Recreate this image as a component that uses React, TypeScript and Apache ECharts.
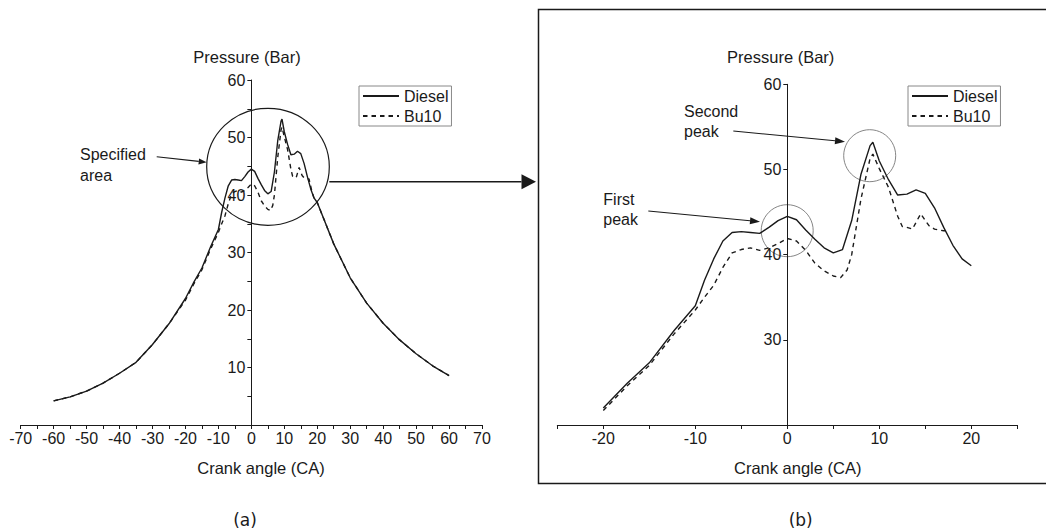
import React, { useEffect, useRef } from "react";
import * as echarts from "echarts";

// Crank angle (deg) and cylinder pressure (bar)
const dieselAngle = [-60, -55, -50, -45, -40, -35, -30, -25, -20, -17.4, -15, -12.3, -10, -9, -8, -7, -6, -5, -4, -3, -2, -1, 0, 1, 2, 3, 4, 5, 6, 7, 8, 9, 9.3, 10, 11, 12, 13, 14, 15, 16, 17, 18, 19, 20, 25, 30, 35, 40, 45, 50, 55, 60];
const dieselP = [4.2, 4.9, 5.9, 7.3, 9.0, 10.9, 14.0, 17.6, 22.0, 24.9, 27.3, 31.1, 34.0, 37.0, 39.5, 41.6, 42.6, 42.7, 42.6, 42.5, 43.2, 44.0, 44.5, 44.1, 42.9, 41.8, 40.8, 40.2, 40.6, 44.0, 49.4, 52.8, 53.2, 51.0, 48.8, 47.0, 47.1, 47.6, 47.2, 45.5, 43.2, 41.1, 39.5, 38.7, 31.5, 25.6, 21.2, 17.7, 14.8, 12.4, 10.3, 8.6];

const bu10Angle = [-60, -55, -50, -45, -40, -35, -30, -25, -20, -17.4, -15, -12.3, -10, -9, -8, -7, -6, -5, -4, -3, -2, -1, 0, 1, 2, 3, 4, 5, 5.8, 6.5, 7, 8, 9, 9.3, 10, 11, 12, 12.5, 13, 13.6, 14.5, 15.4, 16, 17, 17.5, 18.3, 19, 20, 25, 30, 35, 40, 45, 50, 55, 60];
const bu10P = [4.2, 4.9, 5.9, 7.3, 9.0, 10.9, 14.0, 17.6, 21.7, 24.6, 27.0, 30.7, 33.5, 35.0, 36.4, 38.5, 40.2, 40.6, 40.8, 40.5, 40.8, 41.3, 41.9, 41.6, 40.5, 39.0, 38.1, 37.5, 37.3, 38.2, 40.0, 46.5, 51.3, 51.8, 50.1, 47.9, 44.5, 43.3, 43.2, 43.0, 44.8, 43.4, 43.0, 42.8, 42.8, 40.8, 39.5, 38.7, 31.5, 25.6, 21.2, 17.7, 14.8, 12.4, 10.3, 8.6];

const seriesNames = ["Diesel", "Bu10"];
const leftXTicks = { min: -70, max: 70, step: 10 };
const leftYTicks = { min: 0, max: 60, step: 10 };
const rightXTicks = { min: -25, max: 25, step: 5 };
const rightYTicks = { min: 20, max: 60, step: 10 };

const FONT = "Arial";
const INK = "#1a1a1a";
const TICK_FS = 16;
const NAME_FS = 16.5;

function pairs(xs: number[], ys: number[], lo = -Infinity, hi = Infinity) {
  const out: number[][] = [];
  xs.forEach((x, i) => {
    if (x >= lo && x <= hi) out.push([x, ys[i]]);
  });
  return out;
}

function axisBase() {
  return {
    type: "value" as const,
    splitLine: { show: false },
    axisLine: { show: true, onZero: false, lineStyle: { color: INK, width: 1 } },
    axisTick: { show: true, length: 4, lineStyle: { color: INK } },
    axisLabel: { color: INK, fontFamily: FONT, fontSize: TICK_FS },
  };
}

function arrowHead(tx: number, ty: number, fx: number, fy: number, len: number, half: number) {
  const dx = tx - fx, dy = ty - fy;
  const d = Math.hypot(dx, dy);
  const ux = dx / d, uy = dy / d;
  const bx = tx - ux * len, by = ty - uy * len;
  const nx = -uy * half, ny = ux * half;
  return [[tx, ty], [bx + nx, by + ny], [bx - nx, by - ny]];
}

function arrow(fx: number, fy: number, tx: number, ty: number, len: number, half: number, w: number) {
  const head = arrowHead(tx, ty, fx, fy, len, half);
  const bx = (head[1][0] + head[2][0]) / 2;
  const by = (head[1][1] + head[2][1]) / 2;
  return [
    { type: "line", shape: { x1: fx, y1: fy, x2: bx, y2: by }, style: { stroke: INK, lineWidth: w } },
    { type: "polygon", shape: { points: head }, style: { fill: INK } },
  ];
}

function label(text: string, x: number, y: number, size: number, align = "left", family = FONT) {
  return {
    type: "text",
    x,
    y,
    style: {
      text,
      fill: INK,
      fontSize: size,
      fontFamily: family,
      textAlign: align,
      textVerticalAlign: "middle",
      align,
      verticalAlign: "middle",
    },
  };
}

// grid geometry (pixels)
const G1 = { left: 20.7, top: 80, width: 461.3, height: 345 };
const G2 = { left: 557.3, top: 84.3, width: 460, height: 340.7 };
const zeroX1 = G1.left + (G1.width * (0 - leftXTicks.min)) / (leftXTicks.max - leftXTicks.min);
const zeroX2 = G2.left + (G2.width * (0 - rightXTicks.min)) / (rightXTicks.max - rightXTicks.min);

export default function App() {
  const ref = useRef<HTMLDivElement>(null);

  useEffect(() => {
    if (!ref.current) return;
    const chart = echarts.init(ref.current, undefined, { renderer: "svg" });

    const legendCommon = {
      orient: "vertical" as const,
      data: seriesNames,
      itemWidth: 36,
      itemHeight: 14,
      itemGap: 4,
      padding: [2, 3, 2, 3],
      borderColor: "#888",
      borderWidth: 1,
      textStyle: { color: INK, fontFamily: FONT, fontSize: 16 },
      itemStyle: { opacity: 0 },
      selectedMode: false,
    };

    const lineSolid = { color: INK, width: 1.4, type: "solid" as const };
    const lineDash = { color: INK, width: 1.4, type: [4.5, 4] as any };
    const common = { type: "line", symbol: "none", itemStyle: { color: INK } };

    chart.setOption({
      animation: false,
      backgroundColor: "#fff",
      grid: [G1, G2],
      xAxis: [
        {
          ...axisBase(),
          gridIndex: 0,
          min: leftXTicks.min,
          max: leftXTicks.max,
          interval: leftXTicks.step,
          minorTick: { show: true, splitNumber: 2, length: 4, lineStyle: { color: INK } },
          axisLabel: { color: INK, fontFamily: FONT, fontSize: TICK_FS, margin: 5 },
        },
        {
          ...axisBase(),
          gridIndex: 1,
          min: rightXTicks.min,
          max: rightXTicks.max,
          interval: rightXTicks.step,
          axisLabel: {
            color: INK,
            fontFamily: FONT,
            fontSize: TICK_FS,
            margin: 5,
            formatter: (v: number) => (v % 10 === 0 ? String(v) : ""),
          },
        },
      ],
      yAxis: [
        {
          ...axisBase(),
          gridIndex: 0,
          position: "left",
          offset: -(zeroX1 - G1.left),
          min: leftYTicks.min,
          max: leftYTicks.max,
          interval: leftYTicks.step,
          minorTick: { show: true, splitNumber: 2, length: 4, lineStyle: { color: INK } },
          axisLabel: { color: INK, fontFamily: FONT, fontSize: TICK_FS, margin: 6, showMinLabel: false },
        },
        {
          ...axisBase(),
          gridIndex: 1,
          position: "left",
          offset: -(zeroX2 - G2.left),
          min: rightYTicks.min,
          max: rightYTicks.max,
          interval: rightYTicks.step,
          axisLabel: { color: INK, fontFamily: FONT, fontSize: TICK_FS, margin: 6, showMinLabel: false },
        },
      ],
      legend: [
        { ...legendCommon, left: 359, top: 86 },
        { ...legendCommon, left: 908, top: 86 },
      ],
      series: [
        { ...common, name: seriesNames[0], xAxisIndex: 0, yAxisIndex: 0, lineStyle: lineSolid, data: pairs(dieselAngle, dieselP), z: 3 },
        { ...common, name: seriesNames[1], xAxisIndex: 0, yAxisIndex: 0, lineStyle: lineDash, data: pairs(bu10Angle, bu10P), z: 2 },
        { ...common, name: seriesNames[0], xAxisIndex: 1, yAxisIndex: 1, lineStyle: lineSolid, data: pairs(dieselAngle, dieselP, -20, 20), z: 3 },
        { ...common, name: seriesNames[1], xAxisIndex: 1, yAxisIndex: 1, lineStyle: lineDash, data: pairs(bu10Angle, bu10P, -20, 17.5), z: 2 },
      ],
      graphic: [
        // frame of panel (b)
        { type: "rect", shape: { x: 538.5, y: 9.5, width: 520, height: 474 }, style: { fill: "none", stroke: INK, lineWidth: 1.5 } },
        // specified area ellipse
        { type: "ellipse", shape: { cx: 268, cy: 166.8, rx: 61.3, ry: 58.5 }, style: { fill: "none", stroke: INK, lineWidth: 1.2 } },
        // peak circles
        { type: "circle", shape: { cx: 787.2, cy: 230.7, r: 26 }, style: { fill: "none", stroke: "#777", lineWidth: 0.9 } },
        { type: "circle", shape: { cx: 869.7, cy: 155.7, r: 26 }, style: { fill: "none", stroke: "#777", lineWidth: 0.9 } },
        ...arrow(329.3, 181.7, 536, 181.7, 14.5, 7.5, 1.5),
        ...arrow(156.7, 156.7, 206.7, 162.3, 8, 3, 1.1),
        ...arrow(733.3, 131, 845, 141.7, 10, 3.5, 1.1),
        ...arrow(648.3, 211, 760, 221.7, 10, 3.5, 1.1),
        label("Specified", 80, 154.3, 16),
        label("area", 80, 175, 16),
        label("Second", 684, 111, 16),
        label("peak", 684, 131.7, 16),
        label("First", 603.3, 199, 16),
        label("peak", 603.3, 219, 16),
        label("Pressure (Bar)", 247, 57, NAME_FS, "center"),
        label("Pressure (Bar)", 780.7, 56.7, NAME_FS, "center"),
        label("Crank angle (CA)", 261, 468, NAME_FS, "center"),
        label("Crank angle (CA)", 797.7, 468, NAME_FS, "center"),
        label("(a)", 245, 520, 17, "center", "DejaVu Sans"),
        label("(b)", 800.7, 520, 17, "center", "DejaVu Sans"),
      ],
    });

    return () => chart.dispose();
  }, []);

  return (
    <div
      ref={ref}
      style={{ position: "absolute", left: 0, top: 0, width: 1046, height: 531 }}
    />
  );
}
